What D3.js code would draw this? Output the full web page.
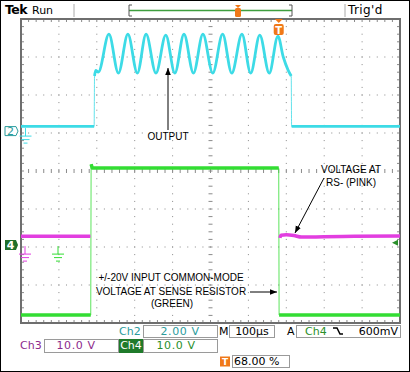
<!DOCTYPE html>
<html>
<head>
<meta charset="utf-8">
<script src="https://cdn.jsdelivr.net/npm/d3@7"></script>
<style>
  body { margin: 0; background: #fff; }
  svg { display: block; }
</style>
</head>
<body>
<div id="scope"></div>
<script>
// Scope settings
const TIME_START = -680, TIME_END = 320;   // µs, trigger at 68%
const ch2Scale = 2, ch2Pos = 1.05;          // V/div, divisions
const ch3Scale = 10, ch3Pos = -1.95;
const ch4Scale = 10, ch4Pos = -1.95;
const trigLevel = 0.6;                      // V on Ch4

// Ch2 output (cyan): time µs / volts
const ch2Time = [-680, -487, -486, -483, -476, -448, -423, -398, -373, -350, -324, -298, -274, -250, -225, -200, -174, -148, -124, -97, -74, -50, -25, -2, 12, 25, 33, 34, 320];
const ch2Volt = [0.25, 0.25, 2.9, 3.2, 3.1, 5.1, 3.05, 5.1, 3.05, 5.1, 3.05, 5.05, 3.05, 5.1, 3.05, 5.1, 3.05, 5.1, 3.05, 5.1, 3.05, 5.05, 3.05, 5.0, 3.9, 3.2, 2.9, 0.25, 0.25];

// Ch3 RS- (pink), null = off screen
const ch3Time = [-680, -497, -497, 3, 6, 20, 40, 60, 120, 200, 320];
const ch3Volt = [2.3, 2.3, null, 1.9, 2.6, 2.7, 2.5, 2.1, 2.2, 2.3, 2.4];

// Ch4 sense resistor common mode (green)
const ch4Time = [-680, -496, -495, -492, 0, 1, 320];
const ch4Volt = [-18.4, -18.4, 21.3, 20.3, 20.3, -18.4, -18.4];

const W = 410, H = 372;
const GL = 21, GR = 400, GT = 19, GB = 323;

const CYAN = '#3ddbe6', GREEN = '#33dd33', PINK = '#e23ee0';
const TEAL = '#2a9c9c', PURPLE = '#8c2a8c', DGREEN = '#2a8f2a', ORANGE = '#f07818';

const svg = d3.select('#scope').append('svg')
  .attr('width', W).attr('height', H)
  .attr('viewBox', `0 0 ${W} ${H}`);

svg.append('defs').append('marker')
  .attr('id', 'arrow')
  .attr('viewBox', '0 -5 10 10')
  .attr('refX', 10).attr('refY', 0)
  .attr('orient', 'auto')
  .attr('markerWidth', 7).attr('markerHeight', 7)
  .attr('markerUnits', 'userSpaceOnUse')
  .append('path')
  .attr('d', 'M0,-4L10,0L0,4Z')
  .attr('fill', '#000');

svg.append('rect').attr('x', 0.5).attr('y', 0.5)
  .attr('width', W - 1).attr('height', H - 1)
  .attr('fill', '#fff').attr('stroke', '#000');

// Scales
const gx = d3.scaleLinear().domain([0, 10]).range([GL, GR]);
const gy = d3.scaleLinear().domain([-4, 4]).range([GB, GT]);
const x = d3.scaleLinear().domain([TIME_START, TIME_END]).range([GL, GR]);
const yCh = (scale, pos) => v => gy(v / scale + pos);
const y2 = yCh(ch2Scale, ch2Pos), y3 = yCh(ch3Scale, ch3Pos), y4 = yCh(ch4Scale, ch4Pos);

// Graticule
const grid = svg.append('g').attr('class', 'grid');
const sub = d3.range(0, 50.01, 1).map(d => d / 5);      // x subdivisions
const subY = d3.range(-20, 20.01, 1).map(d => d / 5);   // y subdivisions

[1, 2, 3, 4, 6, 7, 8, 9].forEach(i => {
  grid.selectAll(null).data(subY).enter().append('rect')
    .attr('x', gx(i) - 0.5).attr('y', d => gy(d) - 0.5)
    .attr('width', 1).attr('height', 1).attr('fill', '#8a8a8a');
});
[-3, -2, -1, 1, 2, 3].forEach(j => {
  grid.selectAll(null).data(sub).enter().append('rect')
    .attr('x', d => gx(d) - 0.5).attr('y', gy(j) - 0.5)
    .attr('width', 1).attr('height', 1).attr('fill', '#8a8a8a');
});
// center axes with ticks
grid.selectAll(null).data(sub).enter().append('line')
  .attr('x1', d => gx(d)).attr('x2', d => gx(d))
  .attr('y1', gy(0) - 2).attr('y2', gy(0) + 2)
  .attr('stroke', '#8a8a8a');
grid.selectAll(null).data(subY).enter().append('line')
  .attr('y1', d => gy(d)).attr('y2', d => gy(d))
  .attr('x1', gx(5) - 2).attr('x2', gx(5) + 2)
  .attr('stroke', '#8a8a8a');
// border ticks
grid.selectAll(null).data(sub).enter().append('line')
  .attr('x1', d => gx(d)).attr('x2', d => gx(d))
  .attr('y1', GT).attr('y2', GT + 3).attr('stroke', '#8a8a8a');
grid.selectAll(null).data(sub).enter().append('line')
  .attr('x1', d => gx(d)).attr('x2', d => gx(d))
  .attr('y1', GB - 3).attr('y2', GB).attr('stroke', '#8a8a8a');
grid.selectAll(null).data(subY).enter().append('line')
  .attr('y1', d => gy(d)).attr('y2', d => gy(d))
  .attr('x1', GL).attr('x2', GL + 3).attr('stroke', '#8a8a8a');
grid.selectAll(null).data(subY).enter().append('line')
  .attr('y1', d => gy(d)).attr('y2', d => gy(d))
  .attr('x1', GR - 3).attr('x2', GR).attr('stroke', '#8a8a8a');
grid.append('rect')
  .attr('x', GL).attr('y', GT).attr('width', GR - GL).attr('height', GB - GT)
  .attr('fill', 'none').attr('stroke', '#6e6e6e').attr('stroke-width', 2);

// Traces: thin full path, thick where the level is steady
function plotTrace(times, volts, yFn, color, curve, thick) {
  const pts = times.map((t, i) => [t, volts[i]]);
  const line = d3.line()
    .defined(d => d[1] != null)
    .x(d => x(d[0])).y(d => yFn(d[1]))
    .curve(curve);
  const g = svg.append('g');
  g.append('path').attr('d', line(pts))
    .attr('fill', 'none').attr('stroke', color).attr('stroke-width', 1).attr('opacity', 0.8);
  // split at fast edges
  const pieces = [];
  let cur = [pts[0]];
  for (let i = 1; i < pts.length; i++) {
    const a = pts[i - 1], b = pts[i];
    const edge = a[1] != null && b[1] != null && (b[0] - a[0]) <= 1.5 &&
      Math.abs(yFn(b[1]) - yFn(a[1])) > 20;
    if (edge) { pieces.push(cur); cur = [b]; } else cur.push(b);
  }
  pieces.push(cur);
  pieces.forEach(p => {
    g.append('path').attr('d', line(p))
      .attr('fill', 'none').attr('stroke', color)
      .attr('stroke-width', thick).attr('stroke-linejoin', 'round');
  });
}

plotTrace(ch4Time, ch4Volt, y4, GREEN, d3.curveLinear, 3.5);
plotTrace(ch3Time, ch3Volt, y3, PINK, d3.curveMonotoneX, 3.5);
plotTrace(ch2Time, ch2Volt, y2, CYAN, d3.curveMonotoneX, 2.8);

// Trigger level arrow (right) and trigger position marker (top)
const ty = y4(trigLevel);
svg.append('path').attr('d', `M${GR - 8},${ty} l6,-3 v6 Z`).attr('fill', DGREEN);
const tx = x(0);
svg.append('path').attr('d', `M${tx - 4},${GT} h8 l-4,4 Z`).attr('fill', ORANGE);
svg.append('rect').attr('x', tx - 5).attr('y', GT + 5).attr('width', 10).attr('height', 11)
  .attr('rx', 2).attr('fill', ORANGE);
svg.append('text').attr('x', tx).attr('y', GT + 14.5).attr('text-anchor', 'middle')
  .attr('font-family', 'DejaVu Sans').attr('font-weight', 'bold').attr('font-size', 10)
  .attr('fill', '#fff').text('T');

// Channel ground markers
function ground(g, cx, topY, color) {
  g.append('line').attr('x1', cx).attr('x2', cx).attr('y1', topY).attr('y2', topY + 8)
    .attr('stroke', color);
  [[12, 8], [8, 11.5], [4, 15]].forEach(([w, dy]) => {
    g.append('line').attr('x1', cx - w / 2).attr('x2', cx + w / 2)
      .attr('y1', topY + dy).attr('y2', topY + dy).attr('stroke', color);
  });
}
const mk = svg.append('g');
const g2y = y2(0);
mk.append('path').attr('d', `M5,${g2y - 4.5} h11 l2,4.5 l-2,4.5 h-11 Z`)
  .attr('fill', '#fff').attr('stroke', TEAL);
mk.append('text').attr('x', 10.5).attr('y', g2y + 4).attr('text-anchor', 'middle')
  .attr('font-family', 'DejaVu Sans').attr('font-size', 11).attr('fill', TEAL).text('2');
ground(mk, 25.5, g2y - 3, CYAN);
const g4y = y4(0);
mk.append('path').attr('d', `M5,${g4y - 5} h11 l2,5 l-2,5 h-11 Z`).attr('fill', '#1f6f2a');
mk.append('text').attr('x', 10.5).attr('y', g4y + 4).attr('text-anchor', 'middle')
  .attr('font-family', 'DejaVu Sans').attr('font-weight', 'bold').attr('font-size', 11)
  .attr('fill', '#fff').text('4');
ground(mk, 25, g4y + 1, PINK);
ground(mk, 58, g4y + 1, GREEN);

// Annotations
const notes = svg.append('g')
  .attr('font-family', 'Liberation Sans, Arial, sans-serif')
  .attr('font-size', 10).attr('fill', '#000').attr('text-anchor', 'middle');
notes.append('text').attr('x', 168).attr('y', 140).text('OUTPUT');
notes.append('text').attr('x', 351).attr('y', 173).text('VOLTAGE AT');
notes.append('text').attr('x', 351).attr('y', 186).text('RS- (PINK)');
notes.append('text').attr('x', 171).attr('y', 281).text('+/-20V INPUT COMMON-MODE');
notes.append('text').attr('x', 171).attr('y', 295).text('VOLTAGE AT SENSE RESISTOR');
notes.append('text').attr('x', 172).attr('y', 307).text('(GREEN)');
const arrows = [[168, 130, 168, 68], [324, 178, 295, 233], [250, 292, 277, 292]];
svg.selectAll(null).data(arrows).enter().append('line')
  .attr('x1', d => d[0]).attr('y1', d => d[1]).attr('x2', d => d[2]).attr('y2', d => d[3])
  .attr('stroke', '#000').attr('stroke-width', 1).attr('marker-end', 'url(#arrow)');

// Top status bar
const topBar = svg.append('g').attr('font-family', 'DejaVu Sans');
topBar.append('text').attr('x', 5).attr('y', 14).attr('font-size', 12.5).attr('font-weight', 'bold')
  .attr('letter-spacing', -0.5).text('Tek');
topBar.append('text').attr('x', 32).attr('y', 14).attr('font-size', 11).text('Run');
topBar.append('text').attr('x', 348).attr('y', 14).attr('font-size', 12).attr('letter-spacing', 0.4).text("Trig'd");
[74, 345].forEach(d => topBar.append('line').attr('x1', d).attr('x2', d).attr('y1', 4).attr('y2', 17)
  .attr('stroke', '#aaa'));
topBar.append('line').attr('x1', 129).attr('x2', 292).attr('y1', 10.5).attr('y2', 10.5)
  .attr('stroke', '#3e9e3e').attr('stroke-width', 1.3);
topBar.append('path').attr('d', 'M132,5 h-3 v11 h3 M289,5 h3 v11 h-3')
  .attr('fill', 'none').attr('stroke', '#555');
topBar.append('path').attr('d', 'M235,5 h6 l-3,3 Z').attr('fill', ORANGE);
topBar.append('rect').attr('x', 235).attr('y', 8).attr('width', 6).attr('height', 9).attr('rx', 1.5).attr('fill', ORANGE);

// Bottom readout
const bot = svg.append('g').attr('font-family', 'DejaVu Sans').attr('font-size', 11);
const boxes = [[143, 325, 74, 12], [229, 325, 45, 12], [296, 325, 104, 12],
  [44, 339, 74, 13], [143, 339, 74, 13], [232, 355, 57, 12]];
bot.selectAll(null).data(boxes).enter().append('rect')
  .attr('x', d => d[0] + 0.5).attr('y', d => d[1] + 0.5).attr('width', d => d[2]).attr('height', d => d[3])
  .attr('fill', '#fff').attr('stroke', '#9a9a9a');
bot.append('rect').attr('x', 119).attr('y', 339).attr('width', 24).attr('height', 14).attr('fill', '#1f7a2a');
bot.append('text').attr('x', 119).attr('y', 335).attr('fill', TEAL).text('Ch2');
bot.append('text').attr('x', 180).attr('y', 335).attr('text-anchor', 'middle').attr('fill', TEAL)
  .attr('letter-spacing', 0.6).text('2.00 V');
bot.append('text').attr('x', 219).attr('y', 335).text('M');
bot.append('text').attr('x', 252).attr('y', 335).attr('text-anchor', 'middle').text('100µs');
bot.append('text').attr('x', 287).attr('y', 335).text('A');
bot.append('text').attr('x', 305).attr('y', 335).attr('fill', DGREEN).text('Ch4');
bot.append('path').attr('d', 'M333,328 h4 l3,6 h3').attr('fill', 'none').attr('stroke', '#000').attr('stroke-width', 1.5);
bot.append('text').attr('x', 398).attr('y', 335).attr('text-anchor', 'end').text('600mV');
bot.append('text').attr('x', 20).attr('y', 349).attr('fill', PURPLE).text('Ch3');
bot.append('text').attr('x', 76).attr('y', 349).attr('text-anchor', 'middle').attr('fill', PURPLE)
  .attr('letter-spacing', 0.6).text('10.0 V');
bot.append('text').attr('x', 131).attr('y', 349).attr('text-anchor', 'middle').attr('fill', '#fff').text('Ch4');
bot.append('text').attr('x', 176).attr('y', 349).attr('text-anchor', 'middle').attr('fill', DGREEN)
  .attr('letter-spacing', 0.6).text('10.0 V');
bot.append('rect').attr('x', 220).attr('y', 356.5).attr('width', 10).attr('height', 10).attr('fill', ORANGE);
bot.append('text').attr('x', 225).attr('y', 365).attr('text-anchor', 'middle').attr('font-size', 9)
  .attr('font-weight', 'bold').attr('fill', '#fff').text('T');
bot.append('text').attr('x', 234).attr('y', 365).text('68.00 %');
</script>
</body>
</html>
